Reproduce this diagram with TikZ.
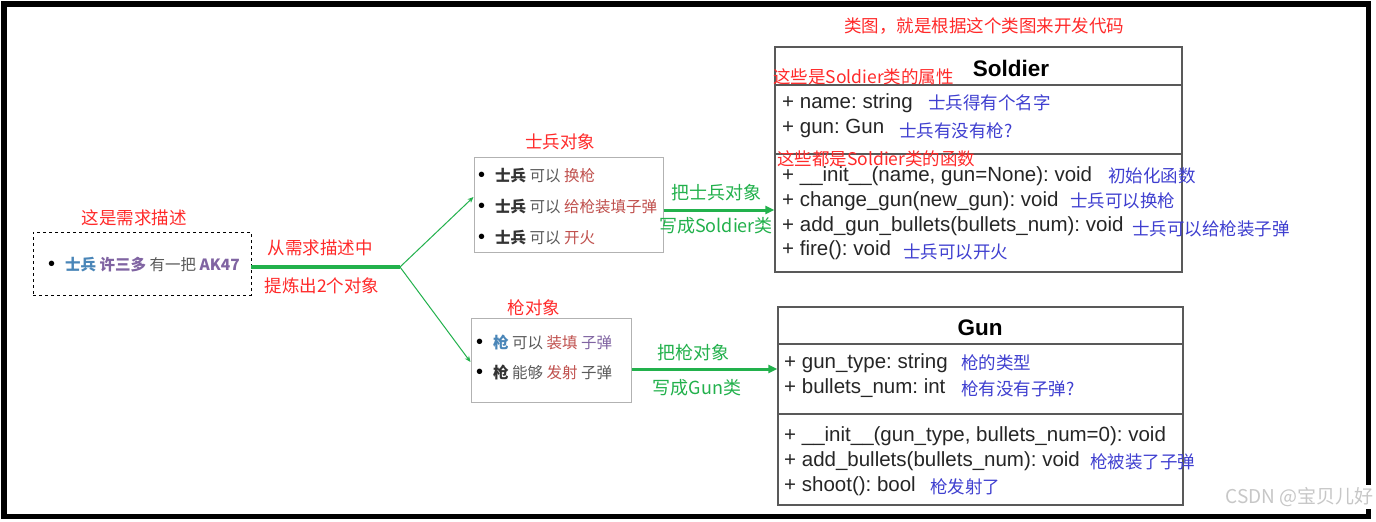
\documentclass[tikz,border=0pt]{standalone}
\usepackage{fontspec}
\setmainfont{Liberation Sans}
\newfontfamily\cjk{Noto Sans CJK SC}
\usetikzlibrary{arrows.meta}

\definecolor{hongse}{HTML}{FF2A2A}
\definecolor{lvse}{HTML}{22B14C}
\definecolor{lanse}{HTML}{3F3FD0}
\definecolor{zhuhong}{HTML}{C0504D}
\definecolor{zise}{HTML}{8064A2}
\definecolor{qinglan}{HTML}{4A86B8}
\definecolor{shenhui}{HTML}{333333}
\definecolor{qianhui}{HTML}{5A5A5A}

\begin{document}
\frenchspacing
\begin{tikzpicture}[x=1pt,y=-1pt]
    \tikzset{hongzi/.style = {font=\cjk\fontsize{17.5}{20}\selectfont,text=hongse,inner sep=0pt}}
    \tikzset{lvzi/.style = {font=\cjk\fontsize{18}{20}\selectfont,text=lvse,inner sep=0pt}}
    \tikzset{zhushi/.style = {font=\cjk\fontsize{17.5}{20}\selectfont,text=lanse,inner sep=0pt,anchor=west}}
    \tikzset{hang/.style = {font=\fontsize{20.5}{22}\selectfont,text=black!85,inner sep=0pt,anchor=west}}
    \tikzset{duixiang/.style = {font=\cjk\fontsize{15.5}{18}\selectfont,inner sep=0pt,anchor=west}}
    \tikzset{leiming/.style = {font=\bfseries\fontsize{22.5}{24}\selectfont,inner sep=0pt}}
    \tikzset{kuang/.style = {draw=black!65,line width=1.4pt}}
    \tikzset{huikuang/.style = {draw=black!30,line width=1pt}}
    \tikzset{cujian/.style = {-{Triangle[length=9pt,width=8pt]},lvse,line width=3pt}}
    \tikzset{xijian/.style = {-{Stealth[length=6pt,width=5pt]},lvse,line width=1pt}}
    \newcommand{\dian}{{\color{black}\normalfont\fontsize{20}{18}\selectfont\textbullet}\hspace{10pt}}

    \useasboundingbox (0,0) rectangle (1376,522);
    \fill[white] (0,0) rectangle (1376,522);
    \draw[line width=5.5pt] (4,4) rectangle (1368.5,516.5);

    % requirement
    \node[draw,dashed,thin,minimum width=218pt,minimum height=63pt] (xuqiu) at (142,263.5) {};
    \node[duixiang] (xuqiuwen) at (48,265) {\dian\textbf{\color{qinglan}士兵} \textbf{\color{zise}许三多} {\color{qianhui}有一把} \textbf{\color{zise}AK47}};
    \node[hongzi] (xuqiuming) at (134,218) {这是需求描述};

    \coordinate (fencha) at (400,267);
    \draw[lvse,line width=4pt] (xuqiu.east |- fencha) -- (fencha);
    \node[hongzi] (tilian1) at (320,248) {从需求描述中};
    \node[hongzi] (tilian2) at (322,286) {提炼出2个对象};

    % soldier object
    \node[huikuang,minimum width=189pt,minimum height=95pt] (bingobj) at (568.5,204.5) {};
    \node[hongzi] (bingming) at (560,142) {士兵对象};
    \node[duixiang] (bing1) at (478,176) {\dian\textbf{\color{shenhui}士兵} {\color{qianhui}可以} {\color{zhuhong}换枪}};
    \node[duixiang] (bing2) at (478,207) {\dian\textbf{\color{shenhui}士兵} {\color{qianhui}可以} {\color{zhuhong}给枪装填子弹}};
    \node[duixiang] (bing3) at (478,238) {\dian\textbf{\color{shenhui}士兵} {\color{qianhui}可以} {\color{zhuhong}开火}};

    % gun object
    \node[huikuang,minimum width=160pt,minimum height=84pt] (qiangobj) at (551,360) {};
    \node[hongzi] (qiangming) at (534,308) {枪对象};
    \node[duixiang] (qiang1) at (476,342) {\dian\textbf{\color{qinglan}枪} {\color{qianhui}可以} {\color{zhuhong}装填} {\color{zise}子弹}};
    \node[duixiang] (qiang2) at (476,372) {\dian\textbf{\color{shenhui}枪} {\color{qianhui}能够} {\color{zhuhong}发射} {\color{qianhui}子弹}};

    \draw[xijian] (fencha) -- ([yshift=7.5pt]bingobj.west);
    \draw[xijian] (fencha) -- ([yshift=-2pt]qiangobj.west);

    % class diagram
    \node[hongzi] (leitu) at (984,26) {类图，就是根据这个类图来开发代码};

    \node[kuang,minimum width=407pt,minimum height=225pt] (soldier) at (978.5,159.5) {};
    \draw[kuang] (775,85) -- (1182,85);
    \draw[kuang] (775,154) -- (1182,154);
    \node[leiming] (soldierming) at (1011,68) {Soldier};
    \node[hang] (s1) at (782,103) {+ name: string};
    \node[hang] (s2) at (782,128) {+ gun: Gun};
    \node[hang] (s3) at (782,176) {+ \_\_init\_\_(name, gun=None): void};
    \node[hang] (s4) at (782,201) {+ change\_gun(new\_gun): void};
    \node[hang] (s5) at (782,226) {+ add\_gun\_bullets(bullets\_num): void};
    \node[hang] (s6) at (782,250) {+ fire(): void};
    \node[zhushi] (z1) at (928,103) {士兵得有个名字};
    \node[zhushi] (z2) at (899,131) {士兵有没有枪?};
    \node[zhushi] (z3) at (1108,176) {初始化函数};
    \node[zhushi] (z4) at (1070,201) {士兵可以换枪};
    \node[zhushi] (z5) at (1132,229) {士兵可以给枪装子弹};
    \node[zhushi] (z6) at (903,252) {士兵可以开火};
    \node[hongzi,anchor=west] (shuxing) at (773,77) {这些是Soldier类的属性};
    \node[hongzi,anchor=west] (hanshu) at (777,159) {这些都是Soldier类的函数};

    \node[kuang,minimum width=405pt,minimum height=198pt] (gun) at (980.5,406) {};
    \draw[kuang] (778,344) -- (1183,344);
    \draw[kuang] (778,414) -- (1183,414);
    \node[leiming] (gunming) at (980,328) {Gun};
    \node[hang] (g1) at (784,363) {+ gun\_type: string};
    \node[hang] (g2) at (784,388) {+ bullets\_num: int};
    \node[hang] (g3) at (784,436) {+ \_\_init\_\_(gun\_type, bullets\_num=0): void};
    \node[hang] (g4) at (784,461) {+ add\_bullets(bullets\_num): void};
    \node[hang] (g5) at (784,486) {+ shoot(): bool};
    \node[zhushi] (y1) at (961,363) {枪的类型};
    \node[zhushi] (y2) at (961,389) {枪有没有子弹?};
    \node[zhushi] (y3) at (1090,462) {枪被装了子弹};
    \node[zhushi] (y4) at (930,487) {枪发射了};

    % object -> class
    \draw[cujian] (bingobj.east |- 0,210) -- (soldier.west |- 0,210);
    \node[lvzi] (bingxie1) at (716,193) {把士兵对象};
    \node[lvzi] (bingxie2) at (716,226) {写成Soldier类};
    \draw[cujian] (qiangobj.east |- 0,369) -- (gun.west |- 0,369);
    \node[lvzi] (qiangxie1) at (693,353) {把枪对象};
    \node[lvzi] (qiangxie2) at (697,388) {写成Gun类};

    \node[font=\cjk\fontsize{19}{20}\selectfont,text=black!22,fill=white,inner sep=2pt,anchor=east] (shuiyin) at (1376,497) {CSDN @宝贝儿好};
\end{tikzpicture}
\end{document}
